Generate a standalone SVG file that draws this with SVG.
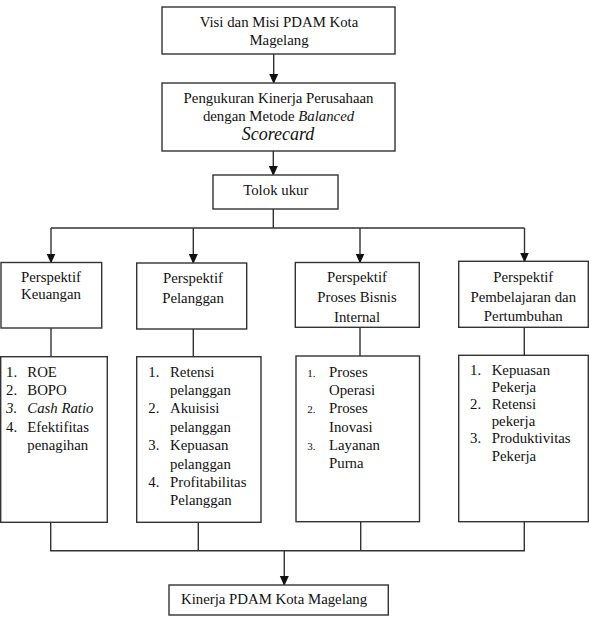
<svg xmlns="http://www.w3.org/2000/svg" width="591" height="619" viewBox="0 0 591 619">
<style>
.box{fill:#fff;stroke:#333;stroke-width:1.4}
.ln{fill:none;stroke:#333;stroke-width:1.4}
text{font-family:"Liberation Serif","Times New Roman",serif;font-size:14.8px;fill:#111}
.c{text-anchor:middle}
.i{font-style:italic}
.sm{font-size:11px}
</style>
<defs>
<marker id="ah" markerWidth="10" markerHeight="10" refX="9" refY="5" orient="auto" markerUnits="userSpaceOnUse">
<path d="M0,0.5 L10,5 L0,9.5 Z" fill="#111"/>
</marker>
</defs>
<rect width="591" height="619" fill="#fff"/>
<g id="connectors">
<line class="ln" x1="273.7" y1="54" x2="273.7" y2="83" marker-end="url(#ah)"/>
<line class="ln" x1="273.3" y1="151" x2="273.3" y2="175" marker-end="url(#ah)"/>
<polyline class="ln" points="273.3,209 273.3,228"/>
<line class="ln" x1="51" y1="228" x2="524.5" y2="228"/>
<line class="ln" x1="51" y1="228" x2="51" y2="262.5" marker-end="url(#ah)"/>
<line class="ln" x1="193.3" y1="228" x2="193.3" y2="263" marker-end="url(#ah)"/>
<line class="ln" x1="360" y1="228" x2="360" y2="262.5" marker-end="url(#ah)"/>
<line class="ln" x1="524.5" y1="228" x2="524.5" y2="261.5" marker-end="url(#ah)"/>
<line class="ln" x1="51" y1="328" x2="51" y2="356.7"/>
<line class="ln" x1="193.3" y1="329" x2="193.3" y2="356.7"/>
<line class="ln" x1="360" y1="327.3" x2="360" y2="356"/>
<line class="ln" x1="524.3" y1="327.3" x2="524.3" y2="355.3"/>
<polyline class="ln" points="50.7,522.3 50.7,550.7 524.3,550.7 524.3,521.7"/>
<line class="ln" x1="198.3" y1="522.3" x2="198.3" y2="550.7"/>
<line class="ln" x1="360.7" y1="521.7" x2="360.7" y2="550.7"/>
<line class="ln" x1="284.3" y1="550.7" x2="284.3" y2="585" marker-end="url(#ah)"/>
</g>
<g id="visi">
<rect class="box" x="162" y="7" width="233" height="47"/>
<text class="c" x="279" y="27">Visi dan Misi PDAM Kota</text>
<text class="c" x="279" y="45">Magelang</text>
</g>
<g id="pengukuran">
<rect class="box" x="162" y="83" width="233" height="68"/>
<text class="c" x="278.5" y="103">Pengukuran Kinerja Perusahaan</text>
<text class="c" x="278.5" y="120.6">dengan Metode <tspan class="i">Balanced</tspan></text>
<text class="c i" x="278" y="140" style="font-size:18px">Scorecard</text>
</g>
<g id="tolok">
<rect class="box" x="213" y="175" width="125" height="34"/>
<text class="c" x="275.8" y="195">Tolok ukur</text>
</g>
<g id="p-keuangan">
<rect class="box" x="1" y="262.5" width="100.7" height="65.5"/>
<text class="c" x="51" y="281.7">Perspektif</text>
<text class="c" x="51" y="299.3">Keuangan</text>
</g>
<g id="p-pelanggan">
<rect class="box" x="136.7" y="263" width="110" height="66"/>
<text class="c" x="193" y="283.3">Perspektif</text>
<text class="c" x="193" y="302.7">Pelanggan</text>
</g>
<g id="p-proses">
<rect class="box" x="295.3" y="262.5" width="124" height="64.8"/>
<text class="c" x="357" y="281.7">Perspektif</text>
<text class="c" x="357" y="301.7">Proses Bisnis</text>
<text class="c" x="357" y="321.7">Internal</text>
</g>
<g id="p-pembelajaran">
<rect class="box" x="458.7" y="261.3" width="129.6" height="66"/>
<text class="c" x="523.3" y="281.7">Perspektif</text>
<text class="c" x="523.3" y="301.7">Pembelajaran dan</text>
<text class="c" x="523.3" y="320.7">Pertumbuhan</text>
</g>
<g id="l-keuangan">
<rect class="box" x="0.7" y="356.7" width="106.6" height="165.6"/>
<text x="6" y="376.7">1.</text><text x="27.3" y="376.7">ROE</text>
<text x="6" y="395">2.</text><text x="27.3" y="395">BOPO</text>
<text class="i" x="6" y="413.3">3.</text><text class="i" x="27.3" y="413.3">Cash Ratio</text>
<text x="6" y="431.7">4.</text><text x="27.3" y="431.7">Efektifitas</text>
<text x="27.3" y="450">penagihan</text>
</g>
<g id="l-pelanggan">
<rect class="box" x="136.7" y="356.7" width="124.3" height="165.6"/>
<text x="148.3" y="376.7">1.</text><text x="170" y="376.7">Retensi</text>
<text x="170" y="395">pelanggan</text>
<text x="148.3" y="413.3">2.</text><text x="170" y="413.3">Akuisisi</text>
<text x="170" y="431.7">pelanggan</text>
<text x="148.3" y="450">3.</text><text x="170" y="450">Kepuasan</text>
<text x="170" y="468.7">pelanggan</text>
<text x="148.3" y="486.7">4.</text><text x="170" y="486.7">Profitabilitas</text>
<text x="170" y="505.3">Pelanggan</text>
</g>
<g id="l-proses">
<rect class="box" x="296" y="356" width="123.5" height="165.7"/>
<text class="sm" x="307.3" y="376.7">1.</text><text x="329" y="376.7">Proses</text>
<text x="329" y="395">Operasi</text>
<text class="sm" x="307.3" y="413.3">2.</text><text x="329" y="413.3">Proses</text>
<text x="329" y="431.7">Inovasi</text>
<text class="sm" x="307.3" y="450">3.</text><text x="329" y="450">Layanan</text>
<text x="329" y="468.3">Purna</text>
</g>
<g id="l-pembelajaran">
<rect class="box" x="458.7" y="355.3" width="129.6" height="166.4"/>
<text x="470" y="375">1.</text><text x="491.7" y="375">Kepuasan</text>
<text x="491.7" y="392.3">Pekerja</text>
<text x="470" y="408.7">2.</text><text x="491.7" y="408.7">Retensi</text>
<text x="491.7" y="426">pekerja</text>
<text x="470" y="443.3">3.</text><text x="491.7" y="443.3">Produktivitas</text>
<text x="491.7" y="460.7">Pekerja</text>
</g>
<g id="kinerja">
<rect class="box" x="169" y="585" width="219.3" height="30"/>
<text x="181" y="604.3">Kinerja PDAM Kota Magelang</text>
</g>
</svg>
